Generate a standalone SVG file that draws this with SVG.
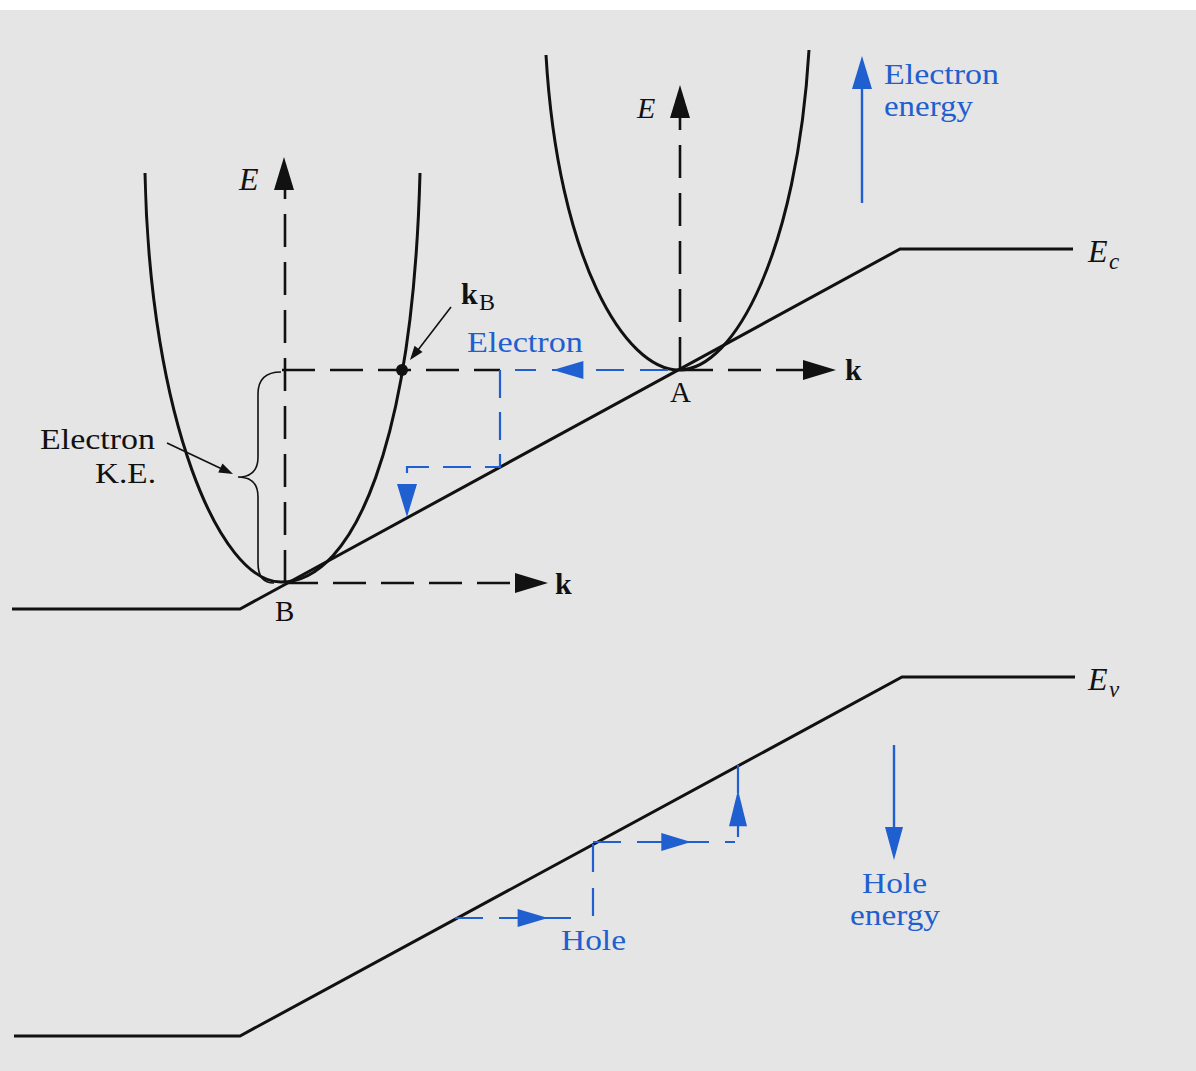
<svg xmlns="http://www.w3.org/2000/svg" width="1196" height="1071" viewBox="0 0 1196 1071">
<style>
.band{fill:none;stroke:#111;stroke-width:3;stroke-linejoin:miter}
.curve{fill:none;stroke:#111;stroke-width:3}
.axis{fill:none;stroke:#111;stroke-width:2.6;stroke-dasharray:33 15}
.bpath{fill:none;stroke:#1f5fcf;stroke-width:2.2;stroke-dasharray:28 16}
.bsolid{fill:none;stroke:#1f5fcf;stroke-width:2.4}
.thin{fill:none;stroke:#111;stroke-width:1.6}
.t{font-family:"Liberation Serif","Times New Roman",serif;fill:#111}
.tb{font-family:"Liberation Serif","Times New Roman",serif;fill:#1f5fcf}
.k{font-family:"Liberation Serif","Times New Roman",serif;fill:#111;font-weight:bold}
.it{font-family:"Liberation Serif","Times New Roman",serif;fill:#111;font-style:italic}
.blk{fill:#111}
.blu{fill:#1f5fcf}
</style>
<defs>
<path id="ah" d="M0,0 L-33,-10 L-33,10 Z"/>
<path id="ahs" d="M0,0 L-14,-5 L-14,5 Z"/>
</defs>
<rect x="0" y="0" width="1196" height="1071" fill="#e5e5e5"/>
<rect x="0" y="0" width="1196" height="10" fill="#ffffff"/>

<g id="band-edges">
<polyline id="Ec" class="band" points="12,609 240,609 900,249 1073,249"/>
<polyline id="Ev" class="band" points="14,1036 240,1036 902,677 1075,677"/>
</g>

<g id="valley-B">
<path class="curve" d="M145,173 C150,420 220,582 281,582 C355,582 413,440 420,173"/>
<circle cx="402" cy="370" r="6" class="blk"/>
</g>

<g id="valley-A">
<path class="curve" d="M546,55 C558,260 625,370 679,370 C735,370 797,250 809,50"/>
</g>

<g id="connectors">
<line class="axis" x1="285" y1="583" x2="285" y2="190"/>
<use href="#ah" class="blk" transform="translate(284,157) rotate(-90)"/>
<line class="axis" x1="285" y1="583" x2="516" y2="583"/>
<use href="#ah" class="blk" transform="translate(548,583)"/>
<line class="axis" x1="680" y1="370" x2="680" y2="118"/>
<use href="#ah" class="blk" transform="translate(680,85) rotate(-90)"/>
<line class="axis" x1="680" y1="370" x2="804" y2="370"/>
<use href="#ah" class="blk" transform="translate(836,370)"/>
<line class="axis" x1="282" y1="370" x2="500" y2="370"/>
<line class="bpath" x1="668" y1="370" x2="515" y2="370"/>
<use href="#ah" class="blu" transform="translate(553,370) rotate(180) scale(0.92,0.9)"/>
<polyline class="bpath" points="500,370 500,467 407,467 407,485" style="stroke-dasharray:28 14"/>
<use href="#ah" class="blu" transform="translate(407,517) rotate(90)"/>
<polyline class="bpath" points="455,918 577,918"/>
<use href="#ah" class="blu" transform="translate(548,918) scale(0.92,0.9)"/>
<polyline class="bpath" points="593,844 593,918"/>
<polyline class="bpath" points="593,842 735,842"/>
<use href="#ah" class="blu" transform="translate(691,842) scale(0.9,0.9)"/>
<line class="bpath" x1="738" y1="765" x2="738" y2="842"/>
<use href="#ah" class="blu" transform="translate(738,790) rotate(-90) scale(1.1,0.9)"/>
<path class="thin" d="M281,372 Q258,372 258,394 L258,457 Q258,477 238,477 Q258,477 258,497 L258,563 Q258,583 274,583"/>
<line class="thin" x1="167" y1="443" x2="222" y2="469"/>
<use href="#ahs" class="blk" transform="translate(233,474) rotate(25.3)"/>
<line class="thin" x1="451" y1="307" x2="418" y2="350"/>
<use href="#ahs" class="blk" transform="translate(410,360) rotate(127.5)"/>
<line class="bsolid" x1="862" y1="203" x2="862" y2="86"/>
<use href="#ah" class="blu" transform="translate(862,56) rotate(-90)"/>
<line class="bsolid" x1="894" y1="745" x2="894" y2="830"/>
<use href="#ah" class="blu" transform="translate(894,860) rotate(90) scale(1,0.9)"/>
</g>

<g id="labels">
<text class="it" x="239" y="190" font-size="32">E</text>
<text class="it" x="637" y="118" font-size="30">E</text>
<text class="k" x="555" y="594" font-size="30">k</text>
<text class="k" x="845" y="380" font-size="30">k</text>
<text class="k" x="461" y="304" font-size="30">k</text>
<text class="t" x="479" y="310" font-size="24">B</text>
<text class="t" x="670" y="402" font-size="29">A</text>
<text class="t" x="275" y="621" font-size="29">B</text>
<text class="tb" x="467" y="352" font-size="29" textLength="116" lengthAdjust="spacingAndGlyphs">Electron</text>
<text class="t" x="40" y="449" font-size="29" textLength="115" lengthAdjust="spacingAndGlyphs">Electron</text>
<text class="t" x="95" y="483" font-size="29" textLength="61" lengthAdjust="spacingAndGlyphs">K.E.</text>
<text class="tb" x="884" y="84" font-size="29" textLength="115" lengthAdjust="spacingAndGlyphs">Electron</text>
<text class="tb" x="884" y="116" font-size="29" textLength="89" lengthAdjust="spacingAndGlyphs">energy</text>
<text class="tb" x="862" y="893" font-size="30" textLength="65" lengthAdjust="spacingAndGlyphs">Hole</text>
<text class="tb" x="850" y="925" font-size="29" textLength="90" lengthAdjust="spacingAndGlyphs">energy</text>
<text class="tb" x="561" y="950" font-size="30" textLength="65" lengthAdjust="spacingAndGlyphs">Hole</text>
<text class="it" x="1088" y="262" font-size="32">E</text>
<text class="it" x="1109" y="269" font-size="23">c</text>
<text class="it" x="1088" y="690" font-size="32">E</text>
<text class="it" x="1109" y="697" font-size="23">v</text>
</g>
</svg>
